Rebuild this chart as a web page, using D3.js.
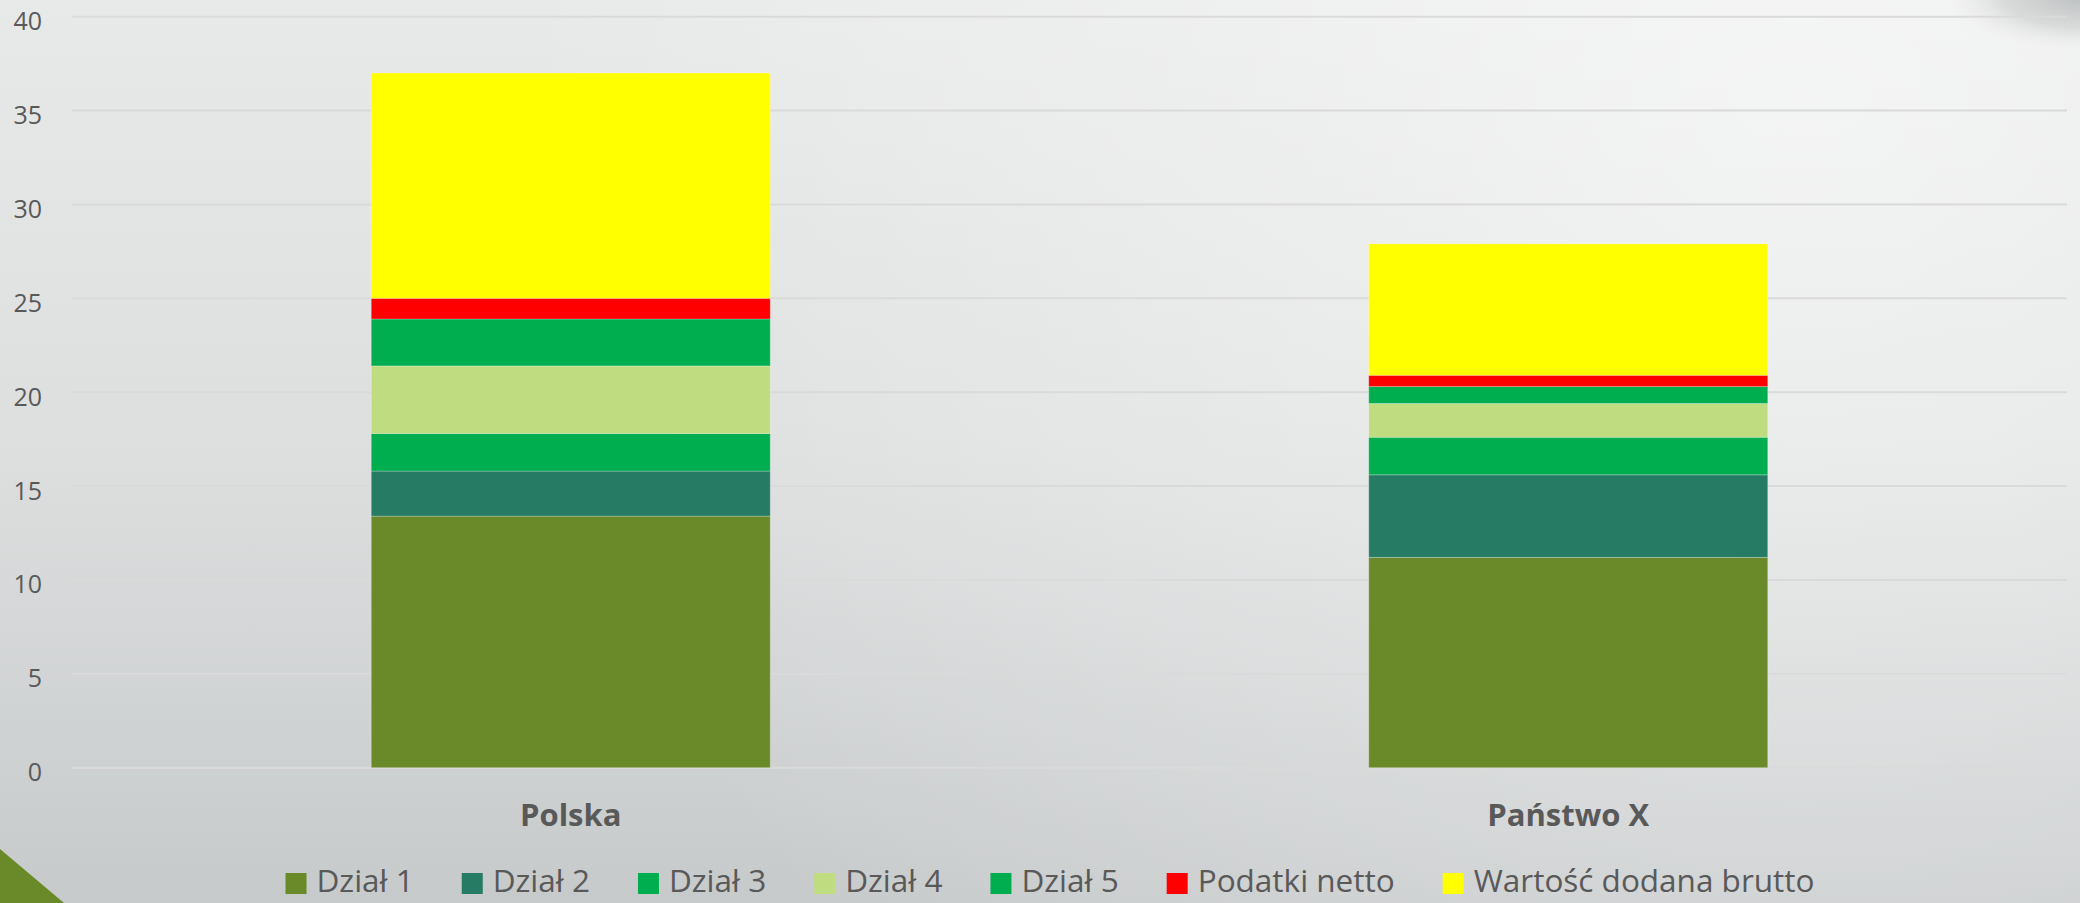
<!DOCTYPE html>
<html>
<head>
<meta charset="utf-8">
<script src="https://cdn.jsdelivr.net/npm/d3@7"></script>
<style>
    html, body { margin: 0; padding: 0; overflow: hidden; }
    body { width: 2080px; height: 903px; }
    text { font-family: "Open Sans", "Noto Sans", sans-serif; fill: #595959; }
</style>
</head>
<body>
<div class="canvas"></div>
<script>
// DATA
const categories = ['Polska', 'Państwo X'];
const seriesNames = ['Dział 1', 'Dział 2', 'Dział 3', 'Dział 4', 'Dział 5', 'Podatki netto', 'Wartość dodana brutto'];
const dzial1 = [13.4, 11.2];
const dzial2 = [2.4, 4.4];
const dzial3 = [2.0, 2.0];
const dzial4 = [3.6, 1.8];
const dzial5 = [2.5, 0.9];
const podatki = [1.1, 0.6];
const wartosc = [12.0, 7.0];
const yTicks = [0, 5, 10, 15, 20, 25, 30, 35, 40];
const colors = ['#6a8928', '#267b64', '#00ae4f', '#bfdc81', '#00ae4f', '#ff0000', '#ffff00'];

const seriesValues = [dzial1, dzial2, dzial3, dzial4, dzial5, podatki, wartosc];

// rows for d3.stack
const rows = categories.map((c, i) => {
    const r = { cat: c };
    seriesNames.forEach((s, j) => r[s] = seriesValues[j][i]);
    return r;
});

const W = 2080, H = 903;
const svg = d3.select('.canvas').append('svg')
    .attr('width', W)
    .attr('height', H);

// background: vertical gradient + soft highlight top right
const defs = svg.append('defs');
const bg = defs.append('linearGradient')
    .attr('id', 'bg')
    .attr('x1', 0).attr('y1', 0).attr('x2', 0).attr('y2', 1);
bg.append('stop').attr('offset', '0%').attr('stop-color', '#e8e9e9');
bg.append('stop').attr('offset', '50%').attr('stop-color', '#dddfdf');
bg.append('stop').attr('offset', '100%').attr('stop-color', '#c7cacb');

const glow = defs.append('radialGradient')
    .attr('id', 'glow')
    .attr('gradientUnits', 'userSpaceOnUse')
    .attr('cx', 1800).attr('cy', 80).attr('r', 1300);
glow.append('stop').attr('offset', '0%').attr('stop-color', '#ffffff').attr('stop-opacity', 0.55);
glow.append('stop').attr('offset', '100%').attr('stop-color', '#ffffff').attr('stop-opacity', 0);

const curl = defs.append('radialGradient').attr('id', 'curl');
curl.append('stop').attr('offset', '0%').attr('stop-color', '#b9bcbd');
curl.append('stop').attr('offset', '60%').attr('stop-color', '#cfd1d1').attr('stop-opacity', 0.7);
curl.append('stop').attr('offset', '100%').attr('stop-color', '#e8e8e8').attr('stop-opacity', 0);

svg.append('rect')
    .attr('width', W)
    .attr('height', H)
    .attr('fill', 'url(#bg)');

svg.append('rect')
    .attr('width', W)
    .attr('height', H)
    .attr('fill', 'url(#glow)');

svg.append('ellipse')
    .attr('cx', 2085).attr('cy', -5)
    .attr('rx', 140).attr('ry', 55)
    .attr('fill', 'url(#curl)');

svg.append('path')
    .attr('d', 'M0,849 L64,903 L0,903 Z')
    .attr('fill', '#6a8928');

// scales
const x = d3.scaleBand()
    .domain(categories)
    .range([72, 2067])
    .paddingInner(0.6)
    .paddingOuter(0.3);

const y = d3.scaleLinear()
    .domain([0, 40])
    .range([767.7, 16.7]);

// grid lines
svg.append('g')
    .selectAll('line')
    .data(yTicks)
    .join('line')
    .attr('x1', 72)
    .attr('x2', 2067)
    .attr('y1', d => y(d))
    .attr('y2', d => y(d))
    .attr('stroke', '#dadada')
    .attr('stroke-width', 2);

// y axis labels
const yAxis = svg.append('g')
    .attr('transform', 'translate(42,5)')
    .call(d3.axisLeft(y).tickValues(yTicks).tickSize(0).tickPadding(0));
yAxis.select('.domain').remove();
yAxis.selectAll('text')
    .style('font-family', '"Open Sans", sans-serif')
    .style('font-size', '25px')
    .attr('fill', '#595959');

// stacked bars
const stacked = d3.stack().keys(seriesNames)(rows);

svg.append('g')
    .selectAll('g')
    .data(stacked)
    .join('g')
    .attr('fill', (d, i) => colors[i])
    .selectAll('rect')
    .data(d => d)
    .join('rect')
    .attr('x', d => x(d.data.cat))
    .attr('width', x.bandwidth())
    .attr('y', d => y(d[1]))
    .attr('height', d => y(d[0]) - y(d[1]))
    .attr('stroke', 'rgba(255,255,255,0.25)')
    .attr('stroke-width', 1);

// category labels
svg.append('g')
    .selectAll('text')
    .data(categories)
    .join('text')
    .attr('x', d => x(d) + x.bandwidth() / 2)
    .attr('y', 826)
    .attr('text-anchor', 'middle')
    .style('font-size', '31px')
    .style('font-weight', 700)
    .text(d => d);

// legend
const legend = svg.append('g');
const items = legend.selectAll('g')
    .data(seriesNames)
    .join('g');

items.append('rect')
    .attr('width', 21)
    .attr('height', 21)
    .attr('y', 873)
    .attr('fill', (d, i) => colors[i]);

items.append('text')
    .attr('x', 31)
    .attr('y', 892)
    .style('font-size', '31.5px')
    .text(d => d);

let offset = 0;
items.each(function () {
    const g = d3.select(this);
    g.attr('transform', `translate(${offset},0)`);
    offset += 31 + g.select('text').node().getComputedTextLength() + 48;
});
const legendWidth = offset - 48;
legend.attr('transform', `translate(${1050 - legendWidth / 2},0)`);
</script>
</body>
</html>
